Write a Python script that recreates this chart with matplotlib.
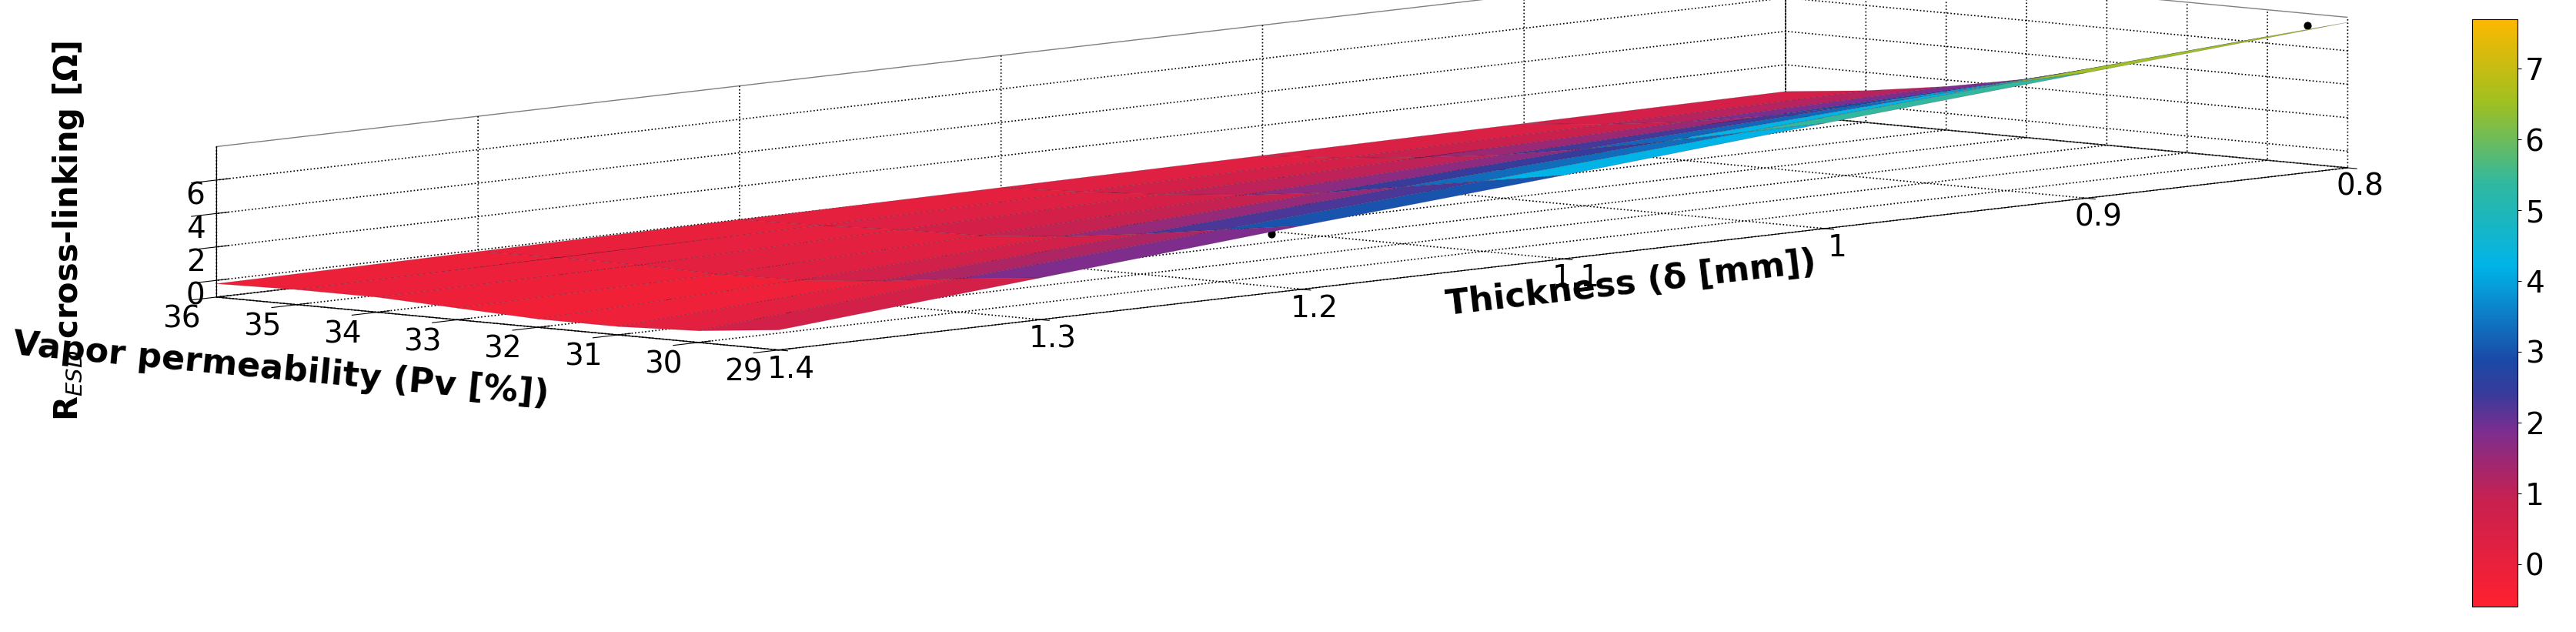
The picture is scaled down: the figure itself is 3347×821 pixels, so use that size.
import numpy as np
import matplotlib.pyplot as plt
from matplotlib.colors import LinearSegmentedColormap

# Vapor permeability [%] and thickness [mm] grid of the fitted surface
pv = [29, 30, 31, 32, 33, 34, 35, 36]
thick = [0.8, 0.9, 1.0, 1.1, 1.2, 1.3, 1.4]
# R_ESD values, rows = thickness, cols = Pv
resd = [
    [7.7, 6.4, 5.0, 3.7, 2.5, 1.6, 0.9, 0.4],
    [6.5, 5.4, 4.2, 3.1, 2.1, 1.3, 0.7, 0.3],
    [5.3, 4.3, 3.3, 2.4, 1.6, 1.0, 0.5, 0.2],
    [4.0, 3.2, 2.4, 1.6, 1.0, 0.6, 0.3, 0.1],
    [2.8, 2.1, 1.4, 0.8, 0.4, 0.3, 0.1, 0.0],
    [1.5, 1.0, 0.4, 0.0, -0.1, 0.0, 0.0, -0.1],
    [0.2, -0.3, -0.5, -0.5, -0.3, -0.1, -0.1, -0.2],
]

# measured points
pts_pv = [29.5, 34.0, 33.0, 33.0, 31.0, 32.0, 30.5]
pts_th = [0.8, 0.9, 1.0, 1.2, 1.15, 1.35, 1.35]
pts_z = [7.3, 0.4, 0.6, 0.2, 0.5, -0.4, -0.5]

cmap = LinearSegmentedColormap.from_list("resd", [
    (0.00, "#ff2030"), (0.18, "#c8204f"), (0.30, "#7a2e90"),
    (0.36, "#3a3a9a"), (0.42, "#1a4aa8"), (0.58, "#00b4e8"),
    (0.72, "#30b8a0"), (0.86, "#a0c020"), (1.00, "#fcb800")])

X, Y = np.meshgrid(pv, thick)
Z = np.array(resd)

fig = plt.figure(figsize=(33.48, 8.21), dpi=100)
ax = fig.add_axes([0.02, -1.40, 0.93, 4.2], projection='3d')
ax.set_proj_type('ortho')
surf = ax.plot_surface(X, Y, Z, cmap=cmap, vmin=-0.6, vmax=7.7,
                       rstride=1, cstride=1, linewidth=0.4,
                       edgecolor=(0.25, 0.05, 0.15, 0.35), antialiased=True)
ax.scatter(pts_pv, pts_th, pts_z, color='k', s=40, depthshade=False)

ax.set_xlim(29, 36)
ax.set_ylim(0.8, 1.4)
ax.set_zlim(-1, 8)
ax.set_xticks([29, 30, 31, 32, 33, 34, 35, 36])
ax.set_yticks([0.8, 0.9, 1.0, 1.1, 1.2, 1.3, 1.4])
ax.set_yticklabels(['0.8', '0.9', '1', '1.1', '1.2', '1.3', '1.4'])
ax.set_zticks([0, 2, 4, 6])
ax.tick_params(labelsize=28)
ax.tick_params(axis='x', pad=18)
ax.tick_params(axis='y', pad=18)
ax.set_box_aspect((1.0, 3.1, 0.2))
ax.view_init(elev=6, azim=132)
ax.zaxis.set_ticks_position('upper')
ax.zaxis.set_label_position('upper')

for a in (ax.xaxis, ax.yaxis, ax.zaxis):
    a.pane.fill = False
    a.pane.set_edgecolor('k')
    a._axinfo['grid']['linestyle'] = ':'
    a._axinfo['grid']['color'] = 'k'
    a._axinfo['grid']['linewidth'] = 1.2

ax.set_xlabel("Vapor permeability (Pv [%])", fontsize=32, fontweight='bold', labelpad=140)
ax.set_ylabel("Thickness (δ [mm])", fontsize=32, fontweight='bold', labelpad=120)
ax.set_zlabel("R$_{ESD}$ cross-linking [Ω]", fontsize=30, fontweight='bold', labelpad=60)

cax = fig.add_axes([0.9595, 0.04, 0.0175, 0.93])
cb = fig.colorbar(surf, cax=cax, ticks=range(0, 8))
cb.ax.tick_params(labelsize=28)

plt.savefig('out.png', dpi=100)
